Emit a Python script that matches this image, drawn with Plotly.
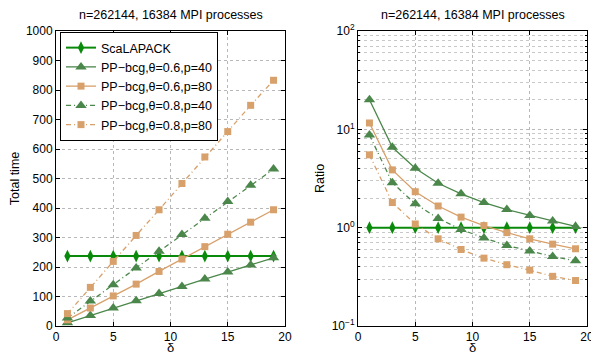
import plotly.graph_objects as go

delta = [1, 3, 5, 7, 9, 11, 13, 15, 17, 19]

names = ["ScaLAPACK", "PP\u2212bcg,\u03b8=0.6,p=40", "PP\u2212bcg,\u03b8=0.6,p=80",
         "PP\u2212bcg,\u03b8=0.8,p=40", "PP\u2212bcg,\u03b8=0.8,p=80"]

time_scalapack = [237, 237, 237, 237, 237, 237, 237, 237, 237, 237]
time_t06_p40 = [11, 36, 61, 86, 110, 134, 159, 183, 207, 231]
time_t06_p80 = [21, 61, 102, 142, 185, 227, 269, 311, 352, 394]
time_t08_p40 = [27, 85, 140, 197, 253, 310, 365, 422, 477, 532]
time_t08_p80 = [42, 131, 219, 307, 394, 483, 573, 659, 748, 833]

ratio_scalapack = [1, 1, 1, 1, 1, 1, 1, 1, 1, 1]
ratio_t06_p40 = [20.0, 6.56, 4.02, 2.83, 2.21, 1.80, 1.53, 1.33, 1.17, 1.03]
ratio_t06_p80 = [11.6, 3.87, 2.32, 1.66, 1.28, 1.05, 0.89, 0.77, 0.68, 0.61]
ratio_t08_p40 = [8.75, 2.86, 1.75, 1.24, 0.96, 0.785, 0.66, 0.58, 0.51, 0.46]
ratio_t08_p80 = [5.5, 1.80, 1.09, 0.77, 0.60, 0.49, 0.42, 0.37, 0.32, 0.29]

left_yticks = [0, 100, 200, 300, 400, 500, 600, 700, 800, 900, 1000]
x_ticks = [0, 5, 10, 15, 20]
log_ticks = [0.1, 1, 10, 100]
log_ticktext = ["10<sup>\u22121</sup>", "10<sup>0</sup>", "10<sup>1</sup>", "10<sup>2</sup>"]
log_minor = [k * 10.0 ** e for e in (-1, 0, 1) for k in range(2, 10)]

title_text = "n=262144, 16384 MPI processes"
x_title = "\u03b4"

GREEN_S = "#0a8a0a"
GREEN = "#4b874b"
ORANGE = "#d8a06a"
DASHDOT = "5px,3px,1px,3px"

styles = [
    dict(color=GREEN_S, symbol="diamond-tall", size=9, dash="solid", width=2),
    dict(color=GREEN, symbol="triangle-up", size=10, dash="solid", width=1.3),
    dict(color=ORANGE, symbol="square", size=7, dash="solid", width=1.3),
    dict(color=GREEN, symbol="triangle-up", size=10, dash=DASHDOT, width=1.3),
    dict(color=ORANGE, symbol="square", size=7, dash=DASHDOT, width=1.3),
]

time_series = [time_scalapack, time_t06_p40, time_t06_p80, time_t08_p40, time_t08_p80]
ratio_series = [ratio_scalapack, ratio_t06_p40, ratio_t06_p80, ratio_t08_p40, ratio_t08_p80]

fig = go.Figure()
for name, ys, st in zip(names, time_series, styles):
    fig.add_trace(go.Scatter(
        x=delta, y=ys, name=name, mode="lines+markers", xaxis="x", yaxis="y",
        line=dict(color=st["color"], dash=st["dash"], width=st["width"]),
        marker=dict(symbol=st["symbol"], size=st["size"], color=st["color"],
                    line=dict(width=0)),
        cliponaxis=False, showlegend=True))
for name, ys, st in zip(names, ratio_series, styles):
    fig.add_trace(go.Scatter(
        x=delta, y=ys, name=name, mode="lines+markers", xaxis="x2", yaxis="y2",
        line=dict(color=st["color"], dash=st["dash"], width=st["width"]),
        marker=dict(symbol=st["symbol"], size=st["size"], color=st["color"],
                    line=dict(width=0)),
        showlegend=False))

W, H = 591, 356
L1, R1 = 56, 285
L2, R2 = 358, 587
TOP, BOT = 31, 326

axis_common = dict(
    showline=True, linecolor="black", linewidth=1, mirror="ticks",
    ticks="inside", ticklen=4, tickcolor="black",
    showgrid=True, gridcolor="#b8b8b8", griddash="dot", gridwidth=1,
    zeroline=False, tickfont=dict(size=12, color="black"), automargin=False,
    ticklabeloverflow="allow",
)

fig.update_layout(
    width=W, height=H,
    margin=dict(l=0, r=0, t=0, b=0),
    paper_bgcolor="white", plot_bgcolor="white",
    font=dict(family="Liberation Sans, Arial, sans-serif", size=12, color="black"),
    xaxis=dict(domain=[L1 / W, R1 / W], range=[0, 20], tickvals=x_ticks, anchor="y",
               **axis_common),
    yaxis=dict(domain=[(H - BOT) / H, (H - TOP) / H], range=[0, 1000],
               tickvals=left_yticks, title=dict(text="Total time", standoff=3,
                                                font=dict(size=12.5)),
               anchor="x", **axis_common),
    xaxis2=dict(domain=[L2 / W, R2 / W], range=[0, 20], tickvals=x_ticks, anchor="y2",
                **axis_common),
    yaxis2=dict(domain=[(H - BOT) / H, (H - TOP) / H], type="log", range=[-1, 2],
                tickvals=log_ticks, ticktext=log_ticktext,
                title=dict(text="Ratio", standoff=4, font=dict(size=12.5)),
                anchor="x2",
                minor=dict(tickvals=log_minor, showgrid=True, gridcolor="#c8c8c8",
                           griddash="dot", ticks="inside", ticklen=2, tickcolor="black"),
                **axis_common),
    legend=dict(x=60 / W, y=(H - 32) / H, xanchor="left", yanchor="top",
                bordercolor="black", borderwidth=1, bgcolor="white",
                font=dict(size=12.5, color="black"), tracegroupgap=0,
                itemwidth=30),
    annotations=[
        dict(text=title_text, x=(L1 + R1) / 2 / W, y=(H - 15) / H, xref="paper",
             yref="paper", showarrow=False, xanchor="center", yanchor="middle",
             font=dict(size=12.5)),
        dict(text=title_text, x=(L2 + R2) / 2 / W, y=(H - 15) / H, xref="paper",
             yref="paper", showarrow=False, xanchor="center", yanchor="middle",
             font=dict(size=12.5)),
        dict(text=x_title, x=(L1 + R1) / 2 / W, y=(H - 347) / H, xref="paper",
             yref="paper", showarrow=False, xanchor="center", yanchor="middle",
             font=dict(size=13)),
        dict(text=x_title, x=(L2 + R2) / 2 / W, y=(H - 347) / H, xref="paper",
             yref="paper", showarrow=False, xanchor="center", yanchor="middle",
             font=dict(size=13)),
    ],
)

fig.write_html("out.html", config={"displayModeBar": False},
               post_script="document.body.style.margin='0';")
